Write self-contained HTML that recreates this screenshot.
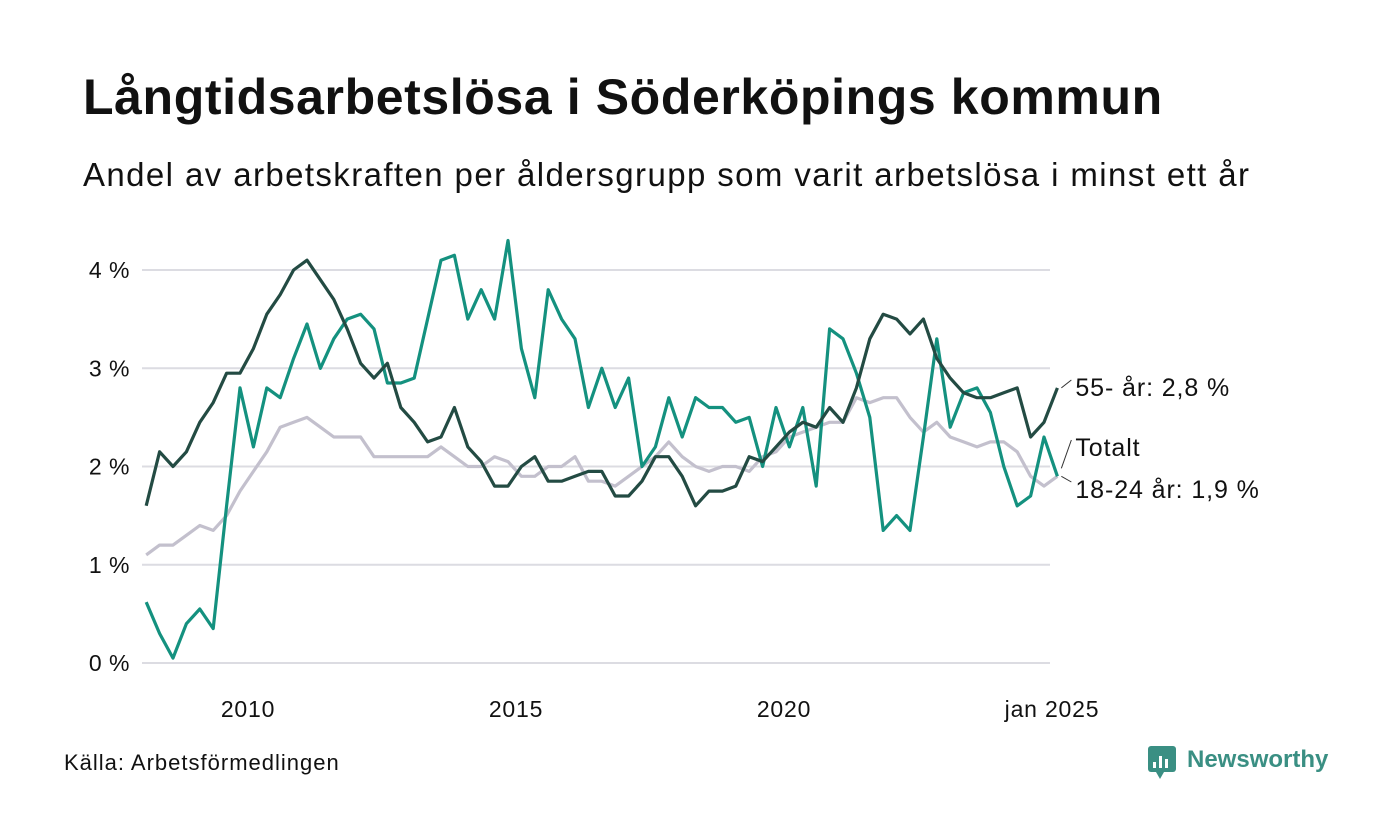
<!DOCTYPE html>
<html><head><meta charset="utf-8"><style>
body{margin:0;background:#fff;font-family:"Liberation Sans","DejaVu Sans",sans-serif;}
#w{position:relative;width:1400px;height:840px;overflow:hidden;}
h1{position:absolute;left:83px;top:68px;margin:0;font-size:50px;font-weight:bold;color:#111;letter-spacing:0.6px;white-space:nowrap;}
.sub{position:absolute;left:83px;top:156px;font-size:33px;color:#111;letter-spacing:1.4px;white-space:nowrap;}
.src{position:absolute;left:64px;top:750px;font-size:22px;color:#111;letter-spacing:1px;}
</style></head><body><div id="w">
<h1>Långtidsarbetslösa i Söderköpings kommun</h1>
<div class="sub">Andel av arbetskraften per åldersgrupp som varit arbetslösa i minst ett år</div>
<div class="src">Källa: Arbetsförmedlingen</div>
<svg id="c" width="1400" height="840" style="position:absolute;left:0;top:0">
<g>
<rect x="1148" y="746" width="28" height="26" rx="3" fill="#3a8f83"/>
<polygon points="1156,772 1164,772 1160,779" fill="#3a8f83"/>
<rect x="1153" y="762" width="3" height="6" fill="#fff"/><rect x="1159" y="756" width="3" height="12" fill="#fff"/><rect x="1165" y="759" width="3" height="9" fill="#fff"/>
<text x="1187" y="767" font-size="24" font-weight="bold" fill="#3a8f83" font-family="Liberation Sans, sans-serif">Newsworthy</text>
</g>
</svg>
<script>
const yTicks=[0,1,2,3,4];
const yTickLabels=["0 %","1 %","2 %","3 %","4 %"];
const xTicks=[2010,2015,2020,2025];
const xTickLabels=["2010","2015","2020","jan 2025"];
const startYear=2008.1, stepYears=0.25;
const young=[0.62,0.3,0.05,0.4,0.55,0.35,1.6,2.8,2.2,2.8,2.7,3.1,3.45,3.0,3.3,3.5,3.55,3.4,2.85,2.85,2.9,3.5,4.1,4.15,3.5,3.8,3.5,4.3,3.2,2.7,3.8,3.5,3.3,2.6,3.0,2.6,2.9,2.0,2.2,2.7,2.3,2.7,2.6,2.6,2.45,2.5,2.0,2.6,2.2,2.6,1.8,3.4,3.3,2.95,2.5,1.35,1.5,1.35,2.3,3.3,2.4,2.75,2.8,2.55,2.0,1.6,1.7,2.3,1.9];
const old=[1.6,2.15,2.0,2.15,2.45,2.65,2.95,2.95,3.2,3.55,3.75,4.0,4.1,3.9,3.7,3.4,3.05,2.9,3.05,2.6,2.45,2.25,2.3,2.6,2.2,2.05,1.8,1.8,2.0,2.1,1.85,1.85,1.9,1.95,1.95,1.7,1.7,1.85,2.1,2.1,1.9,1.6,1.75,1.75,1.8,2.1,2.05,2.2,2.35,2.45,2.4,2.6,2.45,2.8,3.3,3.55,3.5,3.35,3.5,3.1,2.9,2.75,2.7,2.7,2.75,2.8,2.3,2.45,2.8];
const total=[1.1,1.2,1.2,1.3,1.4,1.35,1.5,1.75,1.95,2.15,2.4,2.45,2.5,2.4,2.3,2.3,2.3,2.1,2.1,2.1,2.1,2.1,2.2,2.1,2.0,2.0,2.1,2.05,1.9,1.9,2.0,2.0,2.1,1.85,1.85,1.8,1.9,2.0,2.1,2.25,2.1,2.0,1.95,2.0,2.0,1.95,2.1,2.15,2.3,2.35,2.4,2.45,2.45,2.7,2.65,2.7,2.7,2.5,2.35,2.45,2.3,2.25,2.2,2.25,2.25,2.15,1.9,1.8,1.9];
const X=t=>248+(t-2010)*53.6;
const Y=v=>663-v*98.25;
const svg=document.getElementById('c');
const NS='http://www.w3.org/2000/svg';
function mk(tag,attrs){const e=document.createElementNS(NS,tag);for(const k in attrs)e.setAttribute(k,attrs[k]);svg.appendChild(e);return e;}
yTicks.forEach((v,i)=>{
 const l=mk('line',{x1:142,x2:1050,y1:Y(v),y2:Y(v),stroke:'#dcdce2','stroke-width':2});
 
 
 const t=mk('text',{x:130,y:Y(v)+8,'text-anchor':'end','font-size':23,fill:'#111','letter-spacing':'0.5'});
 t.textContent=yTickLabels[i];
 
 
});
xTicks.forEach((v,i)=>{
 const t=mk('text',{x:X(v),y:717,'text-anchor':'middle','font-size':23,fill:'#111','letter-spacing':'0.8'});
 t.textContent=xTickLabels[i];
 
 
});
function line(arr,color,name){
 const d=arr.map((v,i)=>(i?'L':'M')+X(startYear+i*stepYears).toFixed(1)+','+Y(v).toFixed(1)).join('');
 const p=mk('path',{d:d,fill:'none',stroke:color,'stroke-width':3.2,'stroke-linejoin':'round'});
 
 
}
line(total,'#c3c0cd','line-totalt');
line(young,'#14917f','line-18-24');
line(old,'#234b43','line-55-plus');
const lx=X(startYear+(old.length-1)*stepYears);
const labels=[["55- år: 2,8 %",Y(old[old.length-1]),388],["Totalt",Y(total[total.length-1])-8,448],["18-24 år: 1,9 %",Y(young[young.length-1]),490]];
labels.forEach(a=>{
 const l=mk('line',{x1:lx+4,y1:a[1],x2:lx+14,y2:a[2]-8,stroke:'#333','stroke-width':1});
 
 
 const t=mk('text',{x:lx+18,y:a[2]+8,'font-size':25,fill:'#111','letter-spacing':'0.9'});
 t.textContent=a[0];
 
 
});
</script>
</div></body></html>
